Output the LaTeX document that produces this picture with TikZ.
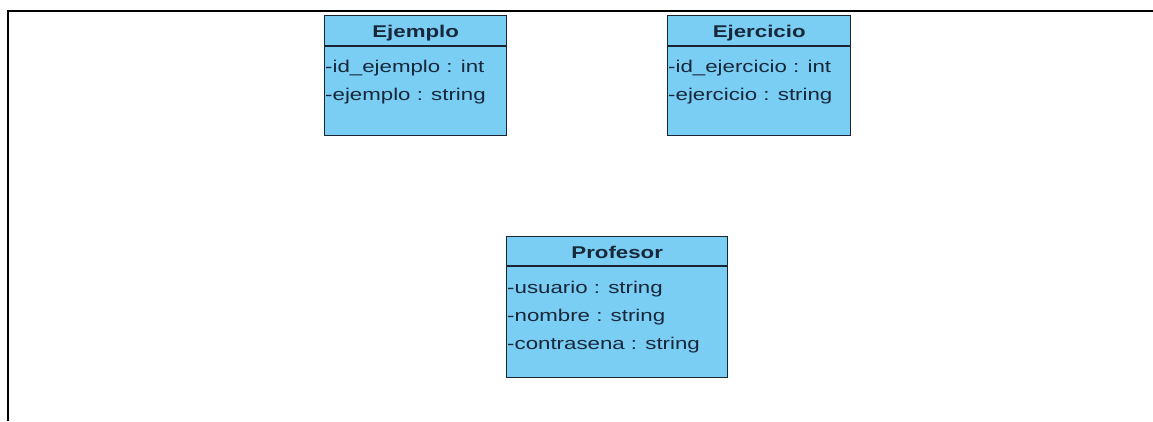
\documentclass[tikz,border=0pt]{standalone}
\usepackage{fontspec}
\newfontfamily\umlfont[FakeStretch=1.31]{Liberation Sans}
\definecolor{clsfill}{RGB}{122,205,243}
\definecolor{clsline}{RGB}{26,36,50}
\definecolor{clstext}{RGB}{24,40,58}
\begin{document}
\begin{tikzpicture}[x=1pt,y=-1pt,
  clsbox/.style={draw=clsline, fill=clsfill, line width=1.4pt, inner sep=0pt, anchor=north west},
  sep/.style={draw=clsline, line width=1.2pt},
  clstitle/.style={font=\umlfont\fontsize{17}{20}\selectfont\bfseries, text=clstext, anchor=base, inner sep=0pt},
  attr/.style={font=\umlfont\fontsize{17}{20}\selectfont, text=clstext, anchor=base west, inner sep=0pt},
  frame/.style={draw=black, line width=2.2pt}]
\useasboundingbox (0,0) rectangle (1153,421);
\fill[white] (0,0) rectangle (1153,421);
\draw[frame] (8,421) -- (8,11) -- (1153,11);

% Ejemplo
\node[clsbox, minimum width=182pt, minimum height=120pt] (ejemplo) at (324,15) {};
\draw[sep] ([yshift=-31pt]ejemplo.north west) -- ([yshift=-31pt]ejemplo.north east);
\node[clstitle] (ejemploT) at ([yshift=-22pt]ejemplo.north) {Ejemplo};
\node[attr] (ejemploA1) at ([xshift=1pt,yshift=-57pt]ejemplo.north west) {-id\_ejemplo : int};
\node[attr] (ejemploA2) at ([xshift=1pt,yshift=-85pt]ejemplo.north west) {-ejemplo : string};

% Ejercicio
\node[clsbox, minimum width=183pt, minimum height=120pt] (ejercicio) at (667,15) {};
\draw[sep] ([yshift=-31pt]ejercicio.north west) -- ([yshift=-31pt]ejercicio.north east);
\node[clstitle] (ejercicioT) at ([yshift=-22pt]ejercicio.north) {Ejercicio};
\node[attr] (ejercicioA1) at ([xshift=1pt,yshift=-57pt]ejercicio.north west) {-id\_ejercicio : int};
\node[attr] (ejercicioA2) at ([xshift=1pt,yshift=-85pt]ejercicio.north west) {-ejercicio : string};

% Profesor
\node[clsbox, minimum width=221pt, minimum height=141pt] (profesor) at (506,236) {};
\draw[sep] ([yshift=-30pt]profesor.north west) -- ([yshift=-30pt]profesor.north east);
\node[clstitle] (profesorT) at ([yshift=-22pt]profesor.north) {Profesor};
\node[attr] (profesorA1) at ([xshift=1pt,yshift=-57pt]profesor.north west) {-usuario : string};
\node[attr] (profesorA2) at ([xshift=1pt,yshift=-85pt]profesor.north west) {-nombre : string};
\node[attr] (profesorA3) at ([xshift=1pt,yshift=-113pt]profesor.north west) {-contrasena : string};
\end{tikzpicture}
\end{document}
